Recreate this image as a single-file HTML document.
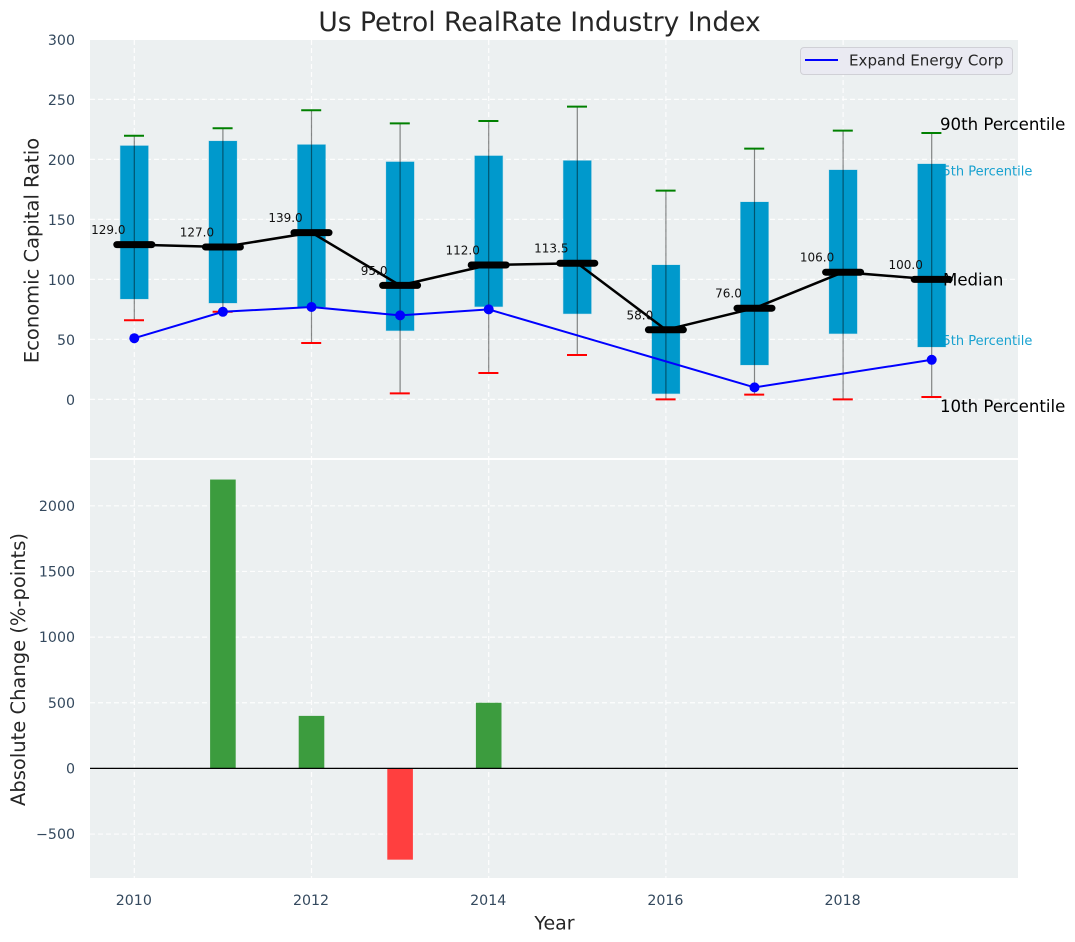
<!DOCTYPE html>
<html lang="en">
<head>
<meta charset="utf-8">
<title>Us Petrol RealRate Industry Index</title>
<style>
html,body{margin:0;padding:0;background:#fff;}
svg{display:block;font-family:"DejaVu Sans","Liberation Sans",sans-serif;}
</style>
</head>
<body>
<svg id="chart" xmlns="http://www.w3.org/2000/svg" width="1075" height="942" viewBox="0 0 1075 942"></svg>
<script>
const years = [2010,2011,2012,2013,2014,2015,2016,2017,2018,2019];
const p90 = [219.7,226,241,230,232,244,174,209,224,222];
const p75 = [211.4,215.3,212.3,198,203,199,112,164.5,191.2,196.2];
const medians = [129,127,139,95,112,113.5,58,76,106,100];
const p25 = [83.7,80.3,77,57.3,77.3,71.4,4.8,28.7,54.8,43.7];
const p10 = [66,73,47,5,22,37,0,4,0,2];
const company = [51,73,77,70,75,null,null,10,null,33];
const changes = [0,2200,400,-695,500,0,0,0,0,0];
const topTicks = [0,50,100,150,200,250,300];
const bottomTicks = [-500,0,500,1000,1500,2000];
const xTicks = [2010,2012,2014,2016,2018];

const NS = 'http://www.w3.org/2000/svg';
const svg = document.getElementById('chart');
const X = v => 134.3 + (v - 2010) * 88.6;
const YT = v => 399.4 - v * 1.2;
const YB = v => 768.4 - v * 0.1313;

function mk(tag, attrs, parent, text) {
  const e = document.createElementNS(NS, tag);
  for (const k in attrs) e.setAttribute(k, attrs[k]);
  if (text !== undefined) e.textContent = text;
  (parent || svg).appendChild(e);
  return e;
}
function grp(name) {
  const g = mk('g', {});
  
  
  return g;
}
const TICK = '#34495e', INK = '#262626';

/* panels */
const panelTop = mk('rect', {x:90,y:40,width:928,height:418,fill:'#ecf0f1'});


const panelBottom = mk('rect', {x:90,y:460,width:928,height:418,fill:'#ecf0f1'});



/* grid */
const gridG = grp('grid-lines');
topTicks.forEach(t => {
  mk('line', {x1:90,x2:1018,y1:YT(t),y2:YT(t),stroke:'#fff','stroke-width':1.2,'stroke-dasharray':'5 3',opacity:.9}, gridG);
});
bottomTicks.forEach(t => {
  mk('line', {x1:90,x2:1018,y1:YB(t),y2:YB(t),stroke:'#fff','stroke-width':1.2,'stroke-dasharray':'5 3',opacity:.9}, gridG);
});
xTicks.forEach(t => {
  mk('line', {x1:X(t),x2:X(t),y1:40,y2:458,stroke:'#fff','stroke-width':1.2,'stroke-dasharray':'5 3',opacity:.9}, gridG);
  mk('line', {x1:X(t),x2:X(t),y1:460,y2:878,stroke:'#fff','stroke-width':1.2,'stroke-dasharray':'5 3',opacity:.9}, gridG);
});

/* percentile labels placed under the boxes */
const lastX = X(years[years.length - 1]);
const label75 = mk('text', {x:lastX + 2.5,y:YT(p75[9]) + 11.5,'font-size':13,fill:'#0099cc',opacity:.9}, svg, '75th Percentile');


const label25 = mk('text', {x:lastX + 2.5,y:YT(p25[9]) - 2,'font-size':13,fill:'#0099cc',opacity:.9}, svg, '25th Percentile');



/* boxes */
const boxG = grp('percentile-boxes');
years.forEach((y, i) => {
  const box = mk('rect', {x:X(y) - 14,y:YT(p75[i]),width:28,height:YT(p25[i]) - YT(p75[i]),fill:'#0099cc',stroke:'#0099cc','stroke-opacity':.2,'stroke-width':1}, boxG);
  
  
});

/* whiskers */
const whiskerG = grp('whiskers');
years.forEach((y, i) => {
  mk('line', {x1:X(y),x2:X(y),y1:YT(p90[i]),y2:YT(p10[i]),stroke:'#000','stroke-width':1.2,opacity:.45}, whiskerG);
  mk('line', {x1:X(y) - 10.3,x2:X(y) + 9.7,y1:YT(p90[i]),y2:YT(p90[i]),stroke:'#008000','stroke-width':2}, whiskerG);
  mk('line', {x1:X(y) - 10.3,x2:X(y) + 9.7,y1:YT(p10[i]),y2:YT(p10[i]),stroke:'#ff0000','stroke-width':2}, whiskerG);
});

/* company line */
const companyPts = years.map((y, i) => company[i] === null ? null : [X(y), YT(company[i])]).filter(Boolean);
const companyLine = mk('polyline', {points:companyPts.map(p => p.join(',')).join(' '),fill:'none',stroke:'#0000ff','stroke-width':2});


const companyG = grp('company-points');
companyPts.forEach(p => {
  mk('circle', {cx:p[0],cy:p[1],r:5,fill:'#0000ff'}, companyG);
});

/* median line */
const medianLine = mk('polyline', {points:years.map((y, i) => X(y) + ',' + YT(medians[i])).join(' '),fill:'none',stroke:'#000','stroke-width':2.5});


const medianG = grp('median-bars');
years.forEach((y, i) => {
  mk('line', {x1:X(y) - 17.5,x2:X(y) + 17.5,y1:YT(medians[i]),y2:YT(medians[i]),stroke:'#000','stroke-width':7,'stroke-linecap':'round'}, medianG);
});
const medianLabels = grp('median-value-labels');
years.forEach((y, i) => {
  mk('text', {x:X(y) - 26,y:YT(medians[i]) - 10.5,'font-size':12,'text-anchor':'middle',fill:'#111'}, medianLabels, medians[i].toFixed(1));
});

/* right-side labels */
const label90 = mk('text', {x:940,y:130,'font-size':16.6,fill:'#000'}, svg, '90th Percentile');


const labelMedian = mk('text', {x:943,y:285.5,'font-size':16.6,fill:'#000'}, svg, 'Median');


const label10 = mk('text', {x:940,y:412,'font-size':16.6,fill:'#000'}, svg, '10th Percentile');



/* change bars */
const barG = grp('change-bars');
years.forEach((y, i) => {
  if (!changes[i]) return;
  const top = Math.min(YB(changes[i]), YB(0));
  const h = Math.abs(YB(changes[i]) - YB(0));
  const bar = mk('rect', {x:X(y) - 12.8,y:top,width:25.6,height:h,fill:changes[i] > 0 ? '#3c9c3e' : '#ff3f3f'}, barG);
  
  
});
const zeroLine = mk('line', {x1:90,x2:1018,y1:YB(0),y2:YB(0),stroke:'#000','stroke-width':1.2});



/* tick labels */
const tickG = grp('tick-labels');
topTicks.forEach(t => {
  mk('text', {x:75,y:YT(t) + 5.7,'font-size':14.2,'text-anchor':'end',fill:TICK}, tickG, String(t));
});
bottomTicks.forEach(t => {
  mk('text', {x:75,y:YB(t) + 5,'font-size':14.2,'text-anchor':'end',fill:TICK}, tickG, String(t).replace('-', '\u2212'));
});
xTicks.forEach(t => {
  mk('text', {x:X(t) - 0.5,y:905,'font-size':14.2,'text-anchor':'middle',fill:TICK}, tickG, String(t));
});

/* titles */
const title = mk('text', {x:539.5,y:31,'font-size':26.5,'text-anchor':'middle',fill:INK}, svg, 'Us Petrol RealRate Industry Index');


const yTop = mk('text', {x:0,y:0,'font-size':19.5,'text-anchor':'middle',fill:INK,transform:'translate(38.5,250.5) rotate(-90)'}, svg, 'Economic Capital Ratio');


const yBottom = mk('text', {x:0,y:0,'font-size':19.5,'text-anchor':'middle',fill:INK,transform:'translate(25,669.5) rotate(-90)'}, svg, 'Absolute Change (%-points)');


const xTitle = mk('text', {x:554.5,y:929.3,'font-size':19,'text-anchor':'middle',fill:INK}, svg, 'Year');



/* legend */
const legend = grp('legend');
mk('rect', {x:800.5,y:47.5,width:212,height:27,rx:3.5,fill:'#eaeaf2',stroke:'#d0d0d6','stroke-width':1}, legend);
const legendSwatch = mk('line', {x1:805,x2:838,y1:60,y2:60,stroke:'#0000ff','stroke-width':2}, legend);


const legendText = mk('text', {x:849,y:65.5,'font-size':15.1,fill:INK}, legend, 'Expand Energy Corp');


</script>
</body>
</html>
